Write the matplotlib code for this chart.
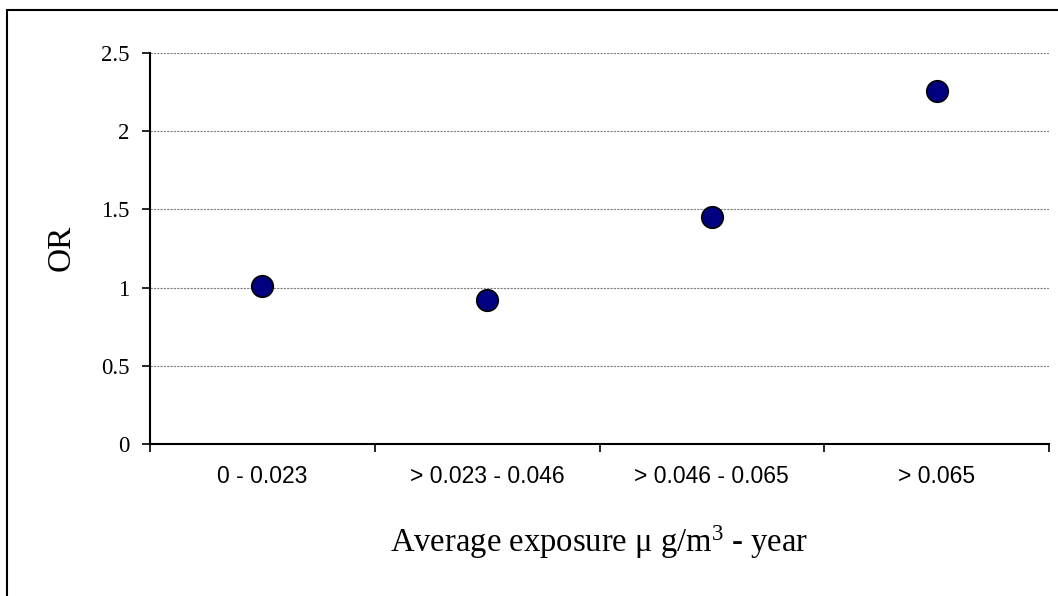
import matplotlib
matplotlib.use("Agg")
import matplotlib.pyplot as plt
from matplotlib.patches import Rectangle

categories = ["0 - 0.023", "> 0.023 - 0.046", "> 0.046 - 0.065", "> 0.065"]
or_values = [1.01, 0.92, 1.45, 2.26]
y_ticks = [0, 0.5, 1, 1.5, 2, 2.5]
y_tick_labels = ["0", "0.5", "1", "1.5", "2", "2.5"]

plt.rcParams['mathtext.fontset'] = 'custom'
plt.rcParams['mathtext.rm'] = 'Liberation Serif'
plt.rcParams['mathtext.it'] = 'Liberation Serif'

fig = plt.figure(figsize=(10.58, 5.96), dpi=100)
W, H = 1058, 596
ax = fig.add_axes([150 / W, 1 - 444 / H, (1049 - 150) / W, (444 - 53) / H])

# outer frame
fig.patches.append(Rectangle((7 / W, -0.05), 1.1, 1 - 10 / H + 0.05,
                             transform=fig.transFigure, fill=False,
                             edgecolor='black', linewidth=1.5))

xs = [i + 0.5 for i in range(len(categories))]
ax.scatter(xs, or_values, s=240, color='#000080', edgecolor='black',
           linewidth=1.2, zorder=3, clip_on=False)

ax.set_xlim(0, len(categories))
ax.set_ylim(0, 2.5)
ax.set_xticks(range(len(categories) + 1))
ax.set_xticklabels([])
ax.set_xticks(xs, minor=True)
ax.set_xticklabels(categories, minor=True, fontsize=16.5, family='Liberation Sans')
ax.tick_params(axis='x', which='minor', length=0, pad=15)
ax.tick_params(axis='x', which='major', direction='out', length=6, width=1.2)
ax.set_yticks(y_ticks)
ax.set_yticklabels(y_tick_labels, fontsize=16.5, family='Liberation Serif')
ax.tick_params(axis='y', direction='out', length=6, width=1.2, pad=9)

for y in y_ticks[1:]:
    ax.axhline(y, color='#808080', linestyle=(0, (2, 1)), linewidth=0.8, zorder=1)

for s in ['top', 'right']:
    ax.spines[s].set_visible(False)
for s in ['left', 'bottom']:
    ax.spines[s].set_linewidth(1.5)

fig.text(61 / W, 1 - 248 / H, "OR", rotation=90, ha='center', va='center',
         fontsize=24, family='Liberation Serif')
fig.text(599 / W, 1 - 552 / H, "Average exposure μ g/m$^{3}$ - year",
         ha='center', va='baseline', fontsize=23.5, family='Liberation Serif')

fig.savefig("out.png", dpi=100)
